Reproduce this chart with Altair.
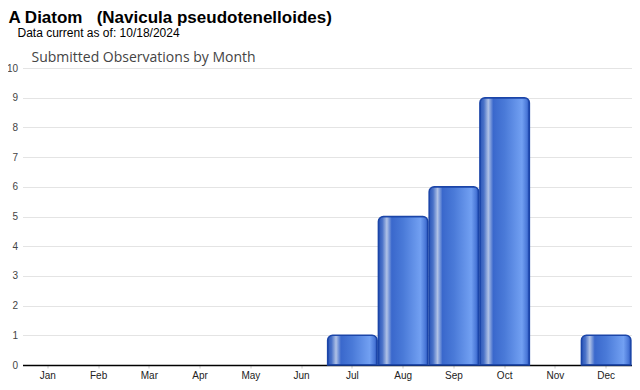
import altair as alt
import pandas as pd

months = ["Jan", "Feb", "Mar", "Apr", "May", "Jun", "Jul", "Aug", "Sep", "Oct", "Nov", "Dec"]
counts = [0, 0, 0, 0, 0, 0, 1, 5, 6, 9, 0, 1]
y_ticks = [0, 1, 2, 3, 4, 5, 6, 7, 8, 9, 10]

title_text = "A Diatom\u00a0\u00a0\u00a0(Navicula pseudotenelloides)"
subtitle_text = "Data current as of: 10/18/2024"
chart_label = "Submitted Observations by Month"

df = pd.DataFrame({"month": months, "count": counts})

grad = alt.LinearGradient(
    gradient="linear", x1=0, x2=1, y1=0, y2=0,
    stops=[
        alt.GradientStop(offset=0.0, color="#2a55b8"),
        alt.GradientStop(offset=0.08, color="#4a72c8"),
        alt.GradientStop(offset=0.17, color="#b0c2e6"),
        alt.GradientStop(offset=0.27, color="#3a68cc"),
        alt.GradientStop(offset=0.5, color="#4a7ad8"),
        alt.GradientStop(offset=0.85, color="#72a0f2"),
        alt.GradientStop(offset=0.95, color="#4a78d8"),
        alt.GradientStop(offset=1.0, color="#2450b8"),
    ],
)

x_enc = alt.X("month:N", sort=months,
              scale=alt.Scale(domain=months, paddingInner=0.025, paddingOuter=0.012),
              axis=alt.Axis(title=None, labelAngle=0, labelFont="Liberation Sans",
                            labelFontSize=10, labelColor="#222", labelPadding=2,
                            domainColor="#000", domainWidth=1.5, tickColor="#ccc",
                            tickSize=3, grid=False))
y_enc = alt.Y("count:Q", scale=alt.Scale(domain=[0, 10], nice=False),
              axis=alt.Axis(title=None, values=y_ticks, labelFont="Liberation Sans",
                            labelFontSize=10, labelColor="#444", labelPadding=5,
                            domain=False, ticks=False, gridColor="#e4e4e4"))

bars = alt.Chart(df).transform_filter(alt.datum["count"] > 0).mark_bar(
    color=grad, stroke="#1b45a8", strokeWidth=1.5,
    cornerRadiusTopLeft=5, cornerRadiusTopRight=5,
).encode(x=x_enc, y=y_enc)

t1 = alt.Chart(pd.DataFrame({"t": [title_text]})).mark_text(
    align="left", baseline="alphabetic", font="Liberation Sans", fontSize=17,
    fontWeight="bold", color="#000"
).encode(x=alt.value(-14), y=alt.value(-45), text="t:N")

t2 = alt.Chart(pd.DataFrame({"t": [subtitle_text]})).mark_text(
    align="left", baseline="alphabetic", font="Liberation Sans", fontSize=12,
    color="#000"
).encode(x=alt.value(-5), y=alt.value(-31), text="t:N")

t3 = alt.Chart(pd.DataFrame({"t": [chart_label]})).mark_text(
    align="left", baseline="alphabetic", font="Open Sans", fontSize=14,
    color="#444"
).encode(x=alt.value(9), y=alt.value(-6), text="t:N")

chart = alt.layer(bars, t1, t2, t3).properties(
    width=609, height=297,
    autosize=alt.AutoSizeParams(type="none"),
    padding={"left": 14.5, "top": 60, "right": 0.5, "bottom": 17},
).configure_view(stroke=None)

chart.save("out.html", embed_options={"renderer": "svg", "actions": False})
